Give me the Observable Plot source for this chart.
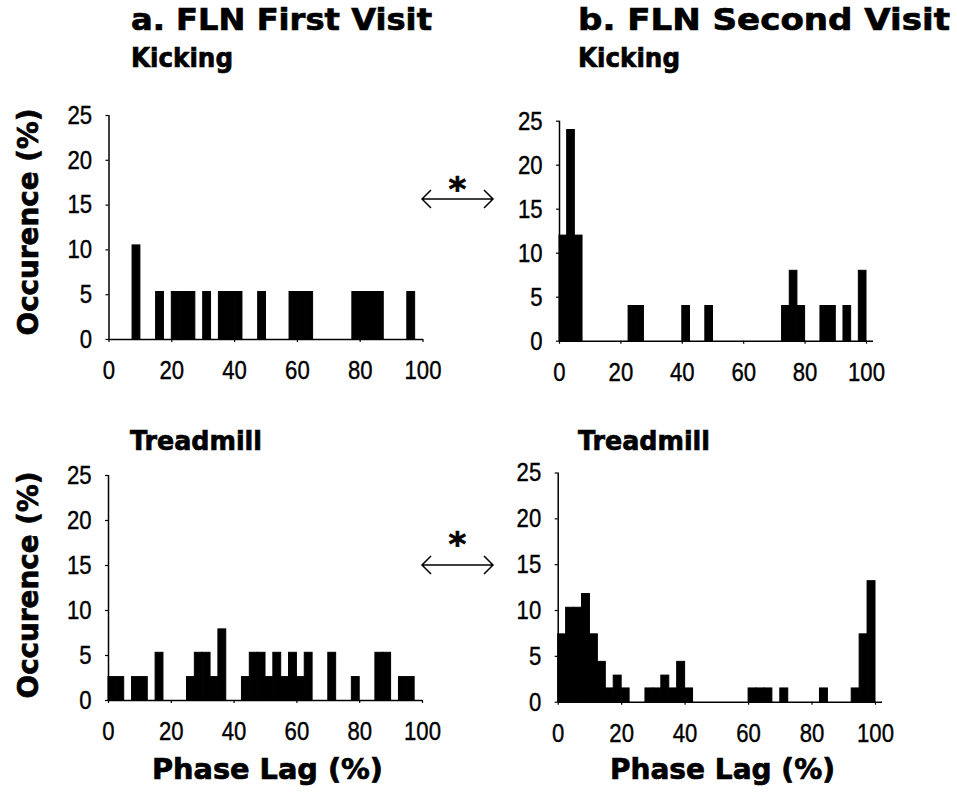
<!DOCTYPE html>
<html>
<head>
<meta charset="utf-8">
<script src="https://cdn.jsdelivr.net/npm/d3@7"></script>
<script src="https://cdn.jsdelivr.net/npm/@observablehq/plot@0.6"></script>
<style>
  body { margin: 0; background: #fff; }
  #wrap { position: relative; width: 957px; height: 807px; overflow: hidden; background: #fff; }
  .panel { position: absolute; }
  #overlay { position: absolute; left: 0; top: 0; pointer-events: none; }
  .head { font-family: "DejaVu Sans", sans-serif; font-weight: bold; fill: #000; stroke: #000; stroke-width: 0.7px; }
</style>
</head>
<body>
<div id="wrap"></div>
<script>
// ---- data ----
const binWidth = 2.5;                       // phase-lag bin width (%)
const phaseTicks = [0, 20, 40, 60, 80, 100];
const occTicks = [0, 5, 10, 15, 20, 25];

// a. First visit – Kicking (n≈19, 5.3% per observation)
const kickFirstBins = [7.5, 15, 20, 22.5, 25, 30, 35, 37.5, 40, 47.5, 57.5, 60, 62.5, 77.5, 80, 82.5, 85, 95];
const kickFirstPct  = [10.5, 5.3, 5.3, 5.3, 5.3, 5.3, 5.3, 5.3, 5.3, 5.3, 5.3, 5.3, 5.3, 5.3, 5.3, 5.3, 5.3, 5.3];

// b. Second visit – Kicking (n≈25, 4% per observation)
const kickSecondBins = [0, 2.5, 5, 22.5, 25, 40, 47.5, 72.5, 75, 77.5, 85, 87.5, 92.5, 97.5];
const kickSecondPct  = [12, 24, 12, 4, 4, 4, 4, 4, 8, 4, 4, 4, 4, 8];

// a. First visit – Treadmill (n≈38, 2.6% per observation)
const treadFirstBins = [0, 2.5, 7.5, 10, 15, 25, 27.5, 30, 32.5, 35, 42.5, 45, 47.5, 50, 52.5, 55, 57.5, 60, 62.5, 70, 77.5, 85, 87.5, 92.5, 95];
const treadFirstPct  = [2.6, 2.6, 2.6, 2.6, 5.3, 2.6, 5.3, 5.3, 2.6, 7.9, 2.6, 5.3, 5.3, 2.6, 5.3, 2.6, 5.3, 2.6, 5.3, 5.3, 2.6, 5.3, 5.3, 2.6, 2.6];

// b. Second visit – Treadmill (n≈68, 1.5% per observation)
const treadSecondBins = [0, 2.5, 5, 7.5, 10, 12.5, 15, 17.5, 20, 27.5, 30, 32.5, 35, 37.5, 40, 60, 62.5, 65, 70, 82.5, 92.5, 95, 97.5];
const treadSecondPct  = [7.4, 10.3, 10.3, 11.8, 7.4, 4.4, 1.5, 2.9, 1.5, 1.5, 1.5, 2.9, 1.5, 4.4, 1.5, 1.5, 1.5, 1.5, 1.5, 1.5, 1.5, 7.4, 13.2];

// ---- drawing ----
const wrap = document.getElementById("wrap");
const tickFont = '"Liberation Sans", Arial, sans-serif';

function panel(bins, pct, g) {
  const table = bins.map((b, i) => ({start: b, end: b + binWidth, pct: pct[i]}));
  const chart = Plot.plot({
    width: g.width,
    height: g.height,
    marginLeft: g.x0 - g.left,
    marginRight: g.width - (g.xEnd - g.left),
    marginTop: g.y25 - g.top,
    marginBottom: g.height - (g.y0 - g.top),
    style: {background: "transparent", fontFamily: tickFont, fontSize: "26px", color: "#000", overflow: "visible"},
    x: {domain: [0, 100], range: [g.x0 - g.left, g.x100 - g.left]},
    y: {domain: [0, 25], range: [g.y0 - g.top, g.y25 - g.top]},
    marks: [
      Plot.rectY(table, {x1: "start", x2: "end", y: "pct", fill: "#000", stroke: "#000", strokeWidth: 1}),
      Plot.axisX(phaseTicks, {tickSize: 3, tickPadding: 18, label: null, strokeWidth: 1.2}),
      Plot.axisY(occTicks, {tickSize: 3, tickPadding: 14, label: null, strokeWidth: 1.2}),
      Plot.ruleX([0], {strokeWidth: 1.5}),
      Plot.ruleY([0], {strokeWidth: 1.5})
    ]
  });
  chart.classList.add("panel");
  chart.style.left = g.left + "px";
  chart.style.top = g.top + "px";
  wrap.appendChild(chart);
  // narrow, slightly heavier tick labels like the scanned original
  chart.querySelectorAll('g[aria-label$="tick label"] text').forEach(t => {
    const w = t.getComputedTextLength();
    t.setAttribute("textLength", (w * 0.85).toFixed(1));
    t.setAttribute("lengthAdjust", "spacingAndGlyphs");
    t.setAttribute("stroke", "#000");
    t.setAttribute("stroke-width", 0.4);
  });
}

panel(kickFirstBins, kickFirstPct,   {left: 0,   top: 90,  width: 450, height: 310, x0: 108.5, x100: 422.5, xEnd: 423, y25: 115,   y0: 339});
panel(kickSecondBins, kickSecondPct, {left: 450, top: 90,  width: 507, height: 310, x0: 559,   x100: 866,   xEnd: 873, y25: 120.7, y0: 340.7});
panel(treadFirstBins, treadFirstPct, {left: 0,   top: 450, width: 450, height: 310, x0: 108,   x100: 422,   xEnd: 422, y25: 475,   y0: 700});
panel(treadSecondBins, treadSecondPct,{left: 450, top: 450, width: 507, height: 310, x0: 557.7, x100: 875,  xEnd: 882, y25: 472.5, y0: 701.7});

// ---- text and significance arrows ----
const ns = "http://www.w3.org/2000/svg";
const ov = document.createElementNS(ns, "svg");
ov.setAttribute("id", "overlay");
ov.setAttribute("width", 957);
ov.setAttribute("height", 807);
wrap.appendChild(ov);

function txt(s, x, y, size, len, extra = {}) {
  const t = document.createElementNS(ns, "text");
  t.setAttribute("class", "head");
  t.setAttribute("x", x);
  t.setAttribute("y", y);
  t.setAttribute("font-size", size);
  if (len) { t.setAttribute("textLength", len); t.setAttribute("lengthAdjust", "spacingAndGlyphs"); }
  for (const k in extra) t.setAttribute(k, extra[k]);
  t.textContent = s;
  ov.appendChild(t);
  return t;
}

txt("a. FLN First Visit", 131, 30, 31, 301);
txt("b. FLN Second Visit", 578, 30, 31, 372);
txt("Kicking", 131, 67, 26, 102);
txt("Kicking", 578, 67, 26, 102);
txt("Treadmill", 130, 450, 27, 132);
txt("Treadmill", 578, 450, 27, 132);
txt("Occurence (%)", 0, 0, 28, 227, {"text-anchor": "middle", transform: "translate(38,222) rotate(-90)"});
txt("Occurence (%)", 0, 0, 28, 227, {"text-anchor": "middle", transform: "translate(38,585) rotate(-90)"});
txt("Phase Lag (%)", 152, 779, 28, 231);
txt("Phase Lag (%)", 610, 779, 28, 225);

function sigArrow(yLine, yStar) {
  const p = document.createElementNS(ns, "path");
  const x1 = 422, x2 = 493, a = 9;
  p.setAttribute("d", `M${x1},${yLine}H${x2}M${x1 + a},${yLine - a}L${x1},${yLine}L${x1 + a},${yLine + a}M${x2 - a},${yLine - a}L${x2},${yLine}L${x2 - a},${yLine + a}`);
  p.setAttribute("fill", "none");
  p.setAttribute("stroke", "#000");
  p.setAttribute("stroke-width", 1.5);
  ov.appendChild(p);
  txt("*", 457.5, yStar, 34, null, {"text-anchor": "middle"});
}
sigArrow(199, 201);
sigArrow(565, 556);
</script>
</body>
</html>
